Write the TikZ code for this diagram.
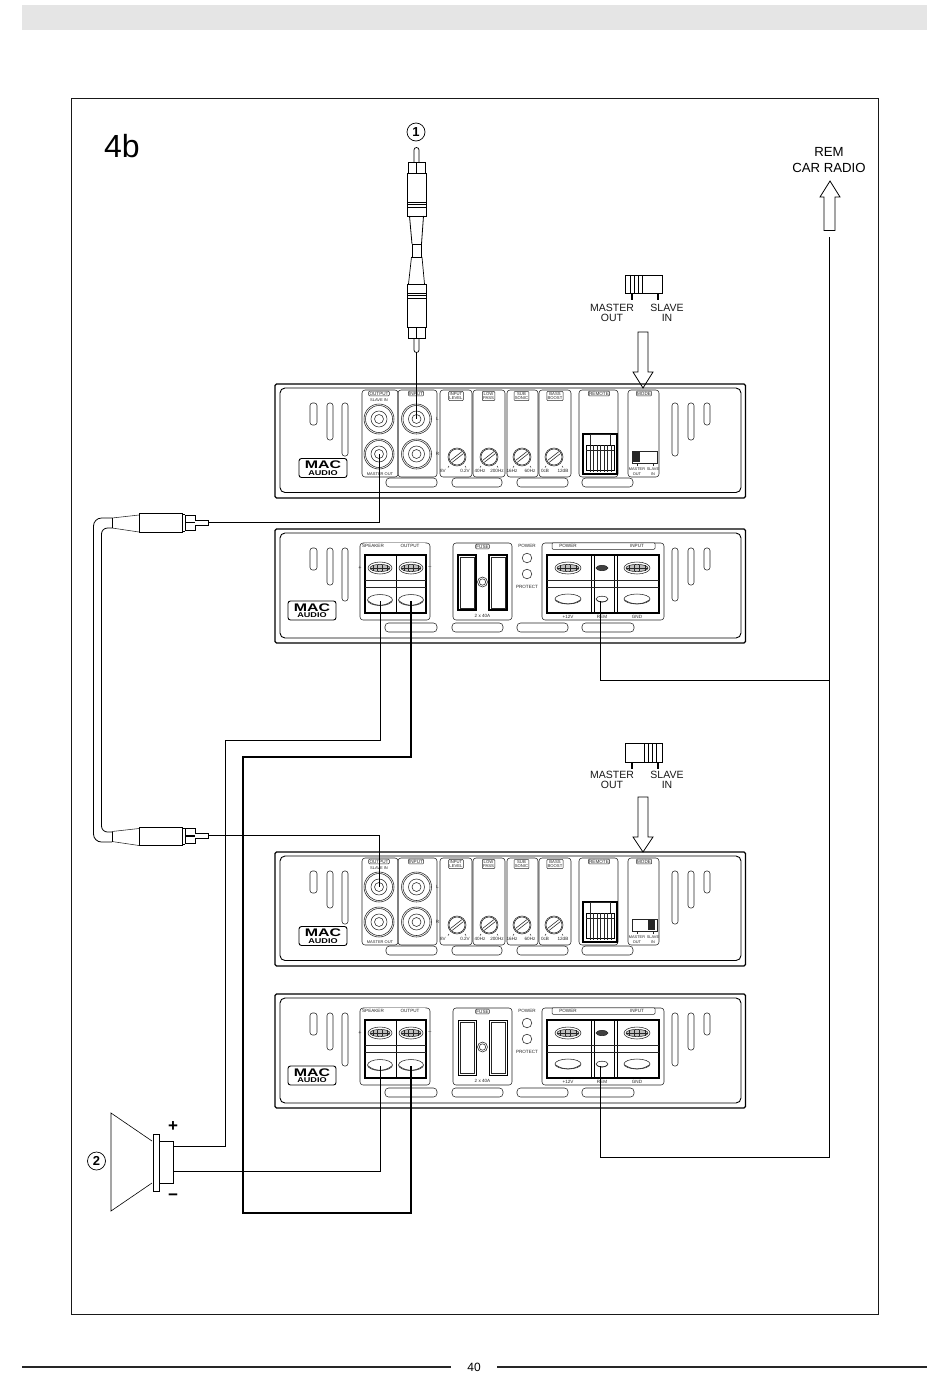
\documentclass[tikz,border=0pt]{standalone}
\usepackage{fontspec}
\setmainfont{Liberation Sans}
\tikzset{
 lt/.style={line width=.55pt,draw=black!85},
 md/.style={line width=.9pt,draw=black},
 hv/.style={line width=1.6pt,draw=black},
 wire/.style={line width=.9pt,draw=black},
 bigwire/.style={line width=2pt,draw=black},
 panelbox/.style={lt,rounded corners=3pt},
 lab/.style={inner sep=0pt,align=center,text=black!85,font=\fontsize{4.6}{5.2}\selectfont},
 tablab/.style={lab,draw=black!85,line width=.5pt,fill=white,rounded corners=1pt,inner sep=.8pt},
 captext/.style={inner sep=0pt,align=center,font=\fontsize{10.5}{10.5}\selectfont,text=black!90},
 slotline/.style={lt,rounded corners=2.5pt},
 numcirc/.style={circle,draw=black,line width=.7pt,inner sep=0pt,minimum size=18pt,font=\bfseries\fontsize{13}{13}\selectfont},
 arrowbody/.style={line width=.8pt,draw=black,fill=white,line join=miter},
}
\newcommand{\slotpill}[4]{\draw[slotline] (#1,#3) rectangle (#2,#4);}
\newcommand{\longpill}[3]{\draw[lt,rounded corners=3.5pt] (#1,#3) rectangle (#2,#3+9);}
\newcommand{\jackround}[2]{%
 \draw[lt] (#1,#2) circle[radius=15];
 \draw[lt] (#1,#2) circle[radius=13.5];
 \draw[lt] (#1,#2) circle[radius=8];
 \draw[lt] (#1,#2) circle[radius=4.5];}
\newcommand{\knobdial}[2]{%
 \begin{scope}[shift={(#1,#2)}]
 \draw[lt] (0,0) circle[radius=9];
 \draw[lt] (0,0) circle[radius=8];
 \draw[lt] (-6.5,3.5) -- (5,-5.5);
 \draw[lt] (-5,5.5) -- (6.5,-3.5);
 \draw[lt] (-8,9) -- (-9,10.5) (8,9) -- (9,10.5);
 \end{scope}}
\newcommand{\maclogo}[2]{%
 \draw[md,rounded corners=2.5pt] (#1-24,#2-9.5) rectangle (#1+24,#2+9.5);
 \node[inner sep=0pt,xscale=1.45,font=\bfseries\fontsize{11}{11}\selectfont] at (#1,#2-3) {MAC};
 \node[inner sep=0pt,xscale=1.3,font=\bfseries\fontsize{7}{7}\selectfont] at (#1,#2+5) {AUDIO};}
\newcommand{\threeslotsL}[1]{%
 \slotpill{310}{317}{#1}{#1+22}\slotpill{327}{333}{#1}{#1+37}\slotpill{342}{348}{#1}{#1+53}}
\newcommand{\threeslotsR}[1]{%
 \slotpill{672}{678}{#1}{#1+53}\slotpill{688}{694}{#1}{#1+37}\slotpill{704}{710}{#1}{#1+22}}
\newcommand{\gridoval}[3]{%
 \draw[lt] (#1,#2) ellipse[x radius=#3,y radius=6];
 \draw[lt,fill=black!25] (#1,#2) ellipse[x radius=#3-2,y radius=3.6];
 \foreach \k in {-.6,-.2,.2,.6} \draw[lt] (#1+\k*#3,#2-3) -- (#1+\k*#3,#2+3);
 \draw[lt] (#1-#3+2,#2) -- (#1+#3-2,#2);}
\newcommand{\plainoval}[4]{%
 \draw[lt,fill=white] (#1,#2) ellipse[x radius=#3,y radius=#4];
 \draw[lt] (#1-#3+.5,#2+.8) .. controls (#1-#3*.4,#2+#4+1.2) and (#1+#3*.4,#2+#4+1.2) .. (#1+#3-.5,#2+.8);}
%% rear panel unit: #1 prefix, #2 y shift, #3 = switch
\newcommand{\rearunit}[3]{%
\begin{scope}[shift={(0,#2)}]
 \draw[hv,line width=1.1pt,rounded corners=1.5pt] (275,384) rectangle (745.5,498);
 \draw[md,rounded corners=5pt] (280,388) rectangle (741,492.5);
 \threeslotsL{403}\threeslotsR{403}
 \maclogo{323}{468}
 \draw[panelbox] (362,390) rectangle (398,477);
 \draw[panelbox] (398,390) rectangle (437,477);
 \jackround{379}{419}\jackround{379}{454}\jackround{416.5}{419}\jackround{416.5}{454}
 \coordinate (#1-mout) at (379,454);
 \coordinate (#1-sin) at (379,419);
 \coordinate (#1-lin) at (416,419);
 \node[tablab] (#1-t1) at (379,393.5) {OUTPUT};
 \node[tablab] (#1-t2) at (416,393.5) {INPUT};
 \node[lab,font=\fontsize{4}{4}\selectfont] (#1-si) at (379,400.5) {SLAVE IN};
 \node[lab,font=\fontsize{4}{4}\selectfont] (#1-mo) at (380,474.5) {MASTER OUT};
 \node[lab] (#1-l) at (437.5,419) {L};
 \node[lab] (#1-r) at (437.5,454) {R};
 \draw[panelbox] (440,390) rectangle (472,477);
 \draw[panelbox] (473,390) rectangle (505,477);
 \draw[panelbox] (507,390) rectangle (538,477);
 \draw[panelbox] (539,390) rectangle (571,477);
 \draw[panelbox] (579,390) rectangle (618,477);
 \draw[panelbox] (628,390) rectangle (659,477);
 \node[tablab,font=\fontsize{4.2}{4.8}\selectfont] (#1-t3) at (456,396) {INPUT\\LEVEL};
 \node[tablab,font=\fontsize{4.2}{4.8}\selectfont] (#1-t4) at (488.5,396) {LOW\\PASS};
 \node[tablab,font=\fontsize{4.2}{4.8}\selectfont] (#1-t5) at (521.5,396) {SUB\\SONIC};
 \node[tablab,font=\fontsize{4.2}{4.8}\selectfont] (#1-t6) at (555,396) {BASS\\BOOST};
 \node[tablab] (#1-t7) at (599,393.5) {REMOTE};
 \node[tablab] (#1-t8) at (644,393.5) {MODE};
 \knobdial{457}{457}\knobdial{489}{457}\knobdial{522}{457}\knobdial{554}{457}
 \node[lab] (#1-k1) at (443,470.5) {8V};
 \node[lab] (#1-k2) at (465,470.5) {0.2V};
 \node[lab] (#1-k3) at (480,470.5) {40Hz};
 \node[lab] (#1-k4) at (497,470.5) {200Hz};
 \node[lab] (#1-k5) at (512,470.5) {16Hz};
 \node[lab] (#1-k6) at (530,470.5) {60Hz};
 \node[lab] (#1-k7) at (545,470.5) {0cB};
 \node[lab] (#1-k8) at (563,470.5) {12dB};
 %% remote socket
 \draw[hv,line width=1.2pt] (583,434) rectangle (617,474);
 \draw[lt] (590,434) rectangle (610,445);
 \draw[md,line width=.7pt] (586,445) rectangle (614,470);
 \foreach \k in {590,593.5,597,600.5,604,607.5,611} \draw[lt,line width=.7pt] (\k,445) -- (\k,472);
 \draw[lt] (586,450) -- (614,450);
 %% mode switch
 \draw[lt,line width=.7pt] (632,451) rectangle (657,463);
 #3
 \draw[lt] (637,463) -- (637,466) (653,463) -- (653,466);
 \node[lab,font=\fontsize{3.9}{4.6}\selectfont] (#1-m1) at (637,471.5) {MASTER\\OUT};
 \node[lab,font=\fontsize{3.9}{4.6}\selectfont] (#1-m2) at (653,471.5) {SLAVE\\IN};
 \longpill{386}{437}{478}\longpill{452}{502}{478}\longpill{517}{568}{478}\longpill{582}{633}{478}
\end{scope}}
%% power panel unit: #1 prefix, #2 y shift, #3 fuse line width
\newcommand{\frontunit}[3]{%
\begin{scope}[shift={(0,#2)}]
 \draw[hv,line width=1.1pt,rounded corners=1.5pt] (275,529) rectangle (745.5,643);
 \draw[md,rounded corners=5pt] (280,533) rectangle (741,638);
 \threeslotsL{548}\threeslotsR{548}
 \maclogo{312}{610.5}
 %% speaker block
 \draw[panelbox] (360,543) rectangle (430,620);
 \draw[hv,line width=1.1pt,fill=white] (365,555) rectangle (426,613);
 \draw[md,line width=.8pt] (396,555) -- (396,613);
 \draw[lt] (365,587) -- (426,587) (365,580) -- (426,580);
 \node[tablab,minimum width=62pt,minimum height=7pt,font=\fontsize{4.8}{5}\selectfont,draw=none] (#1-sp) at (395,546.5) {};
 \node[lab] (#1-sp1) at (373,546) {SPEAKER};
 \node[lab] (#1-sp2) at (410,546) {OUTPUT};
 \node[lab,font=\fontsize{5.5}{6}\selectfont] (#1-pl) at (360,568) {+};
 \node[lab,font=\fontsize{5.5}{6}\selectfont] (#1-mi) at (430,568) {–};
 \gridoval{380}{568}{12}\gridoval{411}{568}{12}
 \plainoval{380}{600}{12.5}{5.5}\plainoval{411}{600}{12.5}{5.5}
 \coordinate (#1-spk1) at (380,601);
 \coordinate (#1-spk2) at (411,601);
 %% fuses
 \draw[panelbox] (453,543) rectangle (512,620);
 \node[tablab] (#1-fu) at (482.5,546.5) {FUSE};
 \draw[line width=#3,draw=black] (458,555) rectangle (476,610);
 \draw[line width=#3,draw=black] (489,555) rectangle (507,610);
 \draw[lt] (460,557) rectangle (474,608) (491,557) rectangle (505,608);
 \draw[lt] (482.5,582) circle[radius=5] (482.5,582) circle[radius=3.2];
 \node[lab] (#1-fa) at (482.5,616) {2 x 40A};
 %% LEDs
 \node[lab] (#1-pw) at (527,546) {POWER};
 \draw[lt] (527,558) circle[radius=4.8] (527,574) circle[radius=4.8];
 \node[lab] (#1-pr) at (527,587) {PROTECT};
 %% power block
 \draw[panelbox] (542,543) rectangle (664,620);
 \draw[hv,line width=1.1pt,fill=white] (547,555) rectangle (659,613);
 \draw[md,line width=.8pt] (591,555) -- (591,613) (594,555) -- (594,613) (614,555) -- (614,613) (617,555) -- (617,613);
 \draw[lt] (547,580) -- (659,580) (547,587) -- (659,587);
 \node[tablab,minimum width=103pt,minimum height=6.5pt] (#1-pt) at (603.5,546) {};
 \node[lab] (#1-pi1) at (568,546) {POWER};
 \node[lab] (#1-pi2) at (637,546) {INPUT};
 \gridoval{568}{568}{13}\gridoval{637}{568}{13}
 \draw[lt,fill=black!75] (602,568) ellipse[x radius=6,y radius=2.6];
 \plainoval{568}{599}{13}{5}\plainoval{637}{599}{13}{5}\plainoval{602}{599}{6}{2.8}
 \coordinate (#1-rem) at (600,601);
 \node[lab] (#1-v) at (568,616.5) {+12V};
 \node[lab] (#1-rm) at (602,616.5) {REM};
 \node[lab] (#1-g) at (637,616.5) {GND};
 \longpill{385}{437}{623}\longpill{452}{503}{623}\longpill{517}{568}{623}\longpill{582}{634}{623}
\end{scope}}
%% horizontal RCA plug, #1 y shift, #2 name
\newcommand{\plugh}[2]{%
\begin{scope}[shift={(0,#1)}]
 \draw[lt] (112,518) -- (139,515) (112,528) -- (139,532);
 \draw[md,fill=white] (139,513.5) rectangle (182,532);
 \draw[md,line width=.7pt] (182,514.5) -- (185,514.5) (182,531) -- (185,531);
 \draw[md,fill=white] (185.5,515) rectangle (195,530);
 \draw[hv,line width=1.3pt] (185.5,522.5) -- (195,522.5);
 \draw[md,line width=.7pt,fill=white] (195,520) -- (208,520) -- (208,525) -- (195,525);
 \coordinate (#2) at (208,522);
\end{scope}}
%% vertical RCA plug
\newcommand{\plugv}[2]{%
\begin{scope}[shift={(416.5,#1)},yscale=#2]
 \draw[md,line width=.7pt,fill=white] (-2.5,-11) -- (-2.5,-23) arc[start angle=180,end angle=360,radius=2.5] -- (2.5,-11);
 \draw[md,fill=white] (-8.5,0) rectangle (8.5,-11);
 \draw[md,line width=.8pt] (0,0) -- (0,-11);
 \draw[md,fill=white] (-9.5,0) rectangle (9.5,43);
 \draw[hv,line width=.9pt] (-9.5,29) -- (9.5,29) (-9.5,31.5) -- (9.5,31.5) (-9.5,34) -- (9.5,34);
\end{scope}}
\begin{document}
\begin{tikzpicture}[x=1pt,y=-1pt,line cap=butt]
\useasboundingbox (0,0) rectangle (950,1387);
\fill[white] (0,0) rectangle (950,1387);
\fill[black!10] (22,5) rectangle (927,30);
\draw[line width=.9pt,draw=black!90] (71,98) rectangle (878.5,1314.5);
\draw[line width=1.4pt,draw=black!85] (22,1367) -- (451,1367) (497,1367) -- (927,1367);
\node[inner sep=0pt,font=\fontsize{12}{12}\selectfont] (pageno) at (474,1367) {40};
\node[inner sep=0pt,font=\fontsize{32}{32}\selectfont] (title) at (122,146) {4b};
\node[inner sep=0pt,align=center,font=\fontsize{13.2}{16}\selectfont] (remcar) at (829,160) {REM\\CAR RADIO};
%% REM hollow arrow
\draw[arrowbody] (824,230.5) -- (824,197) -- (820,197) -- (830,181) -- (840,197) -- (835,197) -- (835,230.5) -- cycle;
\coordinate (remtop) at (829,237);
%% top plugs
\node[numcirc] (n1) at (416,132) {1};
\plugv{173}{1}
\plugv{327}{-1}
\draw[md,line width=.8pt] (409.5,216) -- (412,244) (423.5,216) -- (421.5,244);
\draw[md,line width=.7pt] (412,244) rectangle (421.5,257);
\draw[md,line width=.7pt] (411.5,257) -- (408.5,284) (422,257) -- (424.5,284);
\coordinate (rcatip) at (416,353);
%% mode switches
\begin{scope}
 \draw[md,line width=.8pt] (625,275) rectangle (662,293);
 \foreach \k in {630,634,638,642} \draw[md,line width=.8pt] (\k,275) -- (\k,293);
 \draw[hv,line width=1.2pt] (632,293) -- (632,300) (658,293) -- (658,300);
 \node[captext] (ms1) at (612,313) {MASTER\\OUT};
 \node[captext] (sl1) at (667,313) {SLAVE\\IN};
 \draw[arrowbody] (638,332) -- (638,372) -- (633,372) -- (643,388) -- (653,372) -- (648,372) -- (648,332) -- cycle;
\end{scope}
\begin{scope}
 \draw[md,line width=.8pt] (625,743) rectangle (662,762);
 \foreach \k in {644,648,652,656} \draw[md,line width=.8pt] (\k,743) -- (\k,762);
 \draw[hv,line width=1.2pt] (632,762) -- (632,769) (658,762) -- (658,769);
 \node[captext] (ms2) at (612,780) {MASTER\\OUT};
 \node[captext] (sl2) at (667,780) {SLAVE\\IN};
 \draw[arrowbody] (638,797) -- (638,837) -- (633,837) -- (643,852) -- (653,837) -- (648,837) -- (648,797) -- cycle;
\end{scope}
%% units
\rearunit{ra}{0}{\fill[black!85] (633,452) rectangle (640,462);}
\frontunit{fa}{0}{1.3pt}
\rearunit{rb}{468}{\fill[black!85] (648,452) rectangle (655,462);}
\frontunit{fb}{465}{.8pt}
%% cables plugs
\plugh{0}{tipa}
\plugh{313.5}{tipb}
\draw[md,line width=.8pt,rounded corners=8pt] (112,518) -- (93.5,518) -- (93.5,842) -- (112,842);
\draw[md,line width=.8pt,rounded corners=6pt] (112,528) -- (101.5,528) -- (101.5,832) -- (112,832);
\draw[md,line width=.8pt] (112,518) -- (112,528) (112,831.5) -- (112,841.5);
%% wires
\draw[wire] (rcatip) -- (ra-lin);
\draw[wire] (tipa) -| (ra-mout);
\draw[wire] (tipb) -| (rb-sin);
%% speaker
\draw[line width=.6pt] (152,1141) -- (111,1113) -- (111,1211) -- (152,1183);
\draw[md,line width=.9pt] (153,1134) rectangle (159,1191);
\draw[md,line width=.9pt] (159,1141) rectangle (173,1183);
\coordinate (spkp) at (173,1146.5);
\coordinate (spkm) at (173,1171);
\node[numcirc] (n2) at (96.5,1161) {2};
\node[inner sep=0pt,font=\bfseries\fontsize{17}{17}\selectfont] (plus) at (173,1127) {+};
\node[inner sep=0pt,font=\bfseries\fontsize{17}{17}\selectfont] (minus) at (173,1197) {−};
\coordinate (w1) at (225,740);
\draw[wire] (spkp) -| (w1) -| (fa-spk1);
\draw[wire] (spkm) -| (fb-spk1);
\coordinate (w2) at (243,757);
\coordinate (w3) at (243,1213);
\draw[bigwire] (fa-spk2) |- (w2) -- (w3) -| (fb-spk2);
\coordinate (junc1) at (829,680);
\coordinate (junc2) at (829,1157);
\draw[wire] (fa-rem) |- (junc1);
\draw[wire] (fb-rem) |- (junc2) -- (remtop);
\end{tikzpicture}
\end{document}
